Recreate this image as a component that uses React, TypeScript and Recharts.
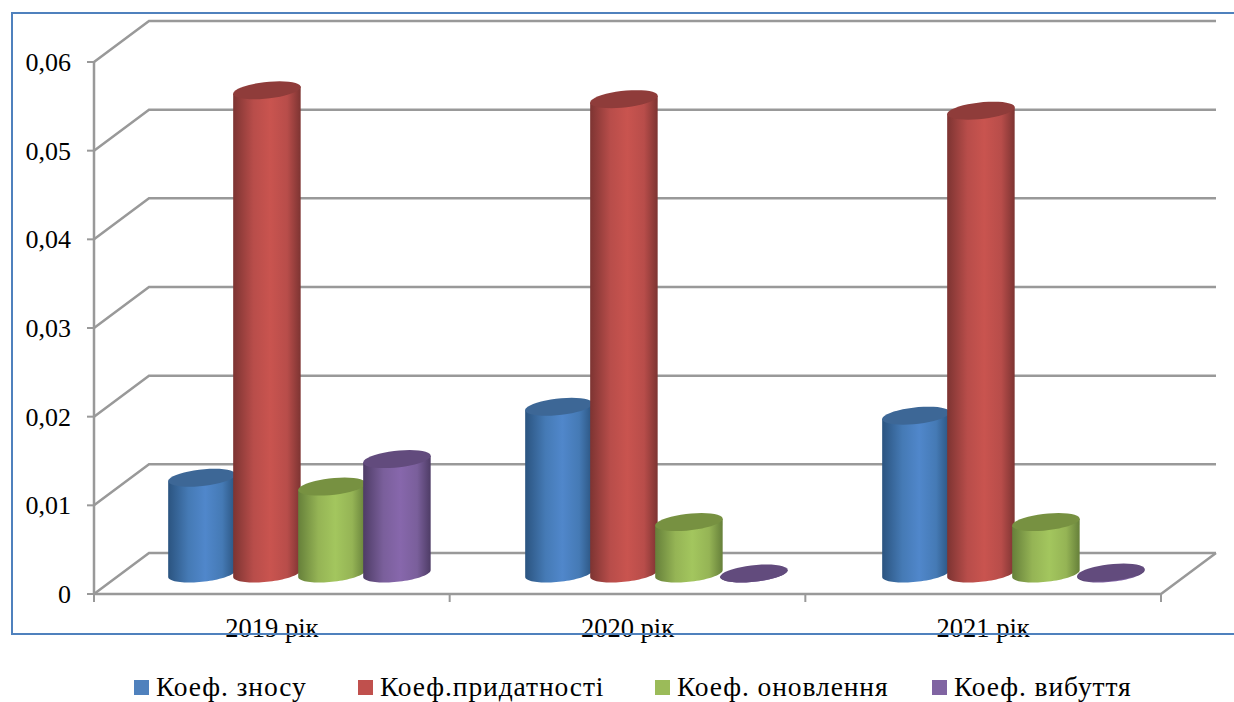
import React from 'react';
import { BarChart, Bar, XAxis, YAxis, CartesianGrid, Legend } from 'recharts';

const YEARS = ['2019 рік', '2020 рік', '2021 рік'];
const ZNOSU = [0.0108, 0.0188, 0.0178];
const PRYDATNOSTI = [0.0545, 0.0535, 0.0522];
const ONOVLENNIA = [0.0098, 0.0058, 0.0058];
const VYBUTTIA = [0.0129, 0, 0.0001];
const Y_TICKS = [0, 0.01, 0.02, 0.03, 0.04, 0.05, 0.06];

const chartData = YEARS.map((name, i) => ({
    name,
    znosu: ZNOSU[i],
    prydatnosti: PRYDATNOSTI[i],
    onovlennia: ONOVLENNIA[i],
    vybuttia: VYBUTTIA[i]
}));

const WIDTH = 1234;
const HEIGHT = 702;
// half of the 3D depth: the bars stand in the middle of the floor
const DX = 27.5;
const DY = 20.5;
const SERIF = '"Liberation Serif", "Times New Roman", serif';
const GRID = '#999999';
// groups are spaced a little wider than the axis in the original
const GROUP_DRIFT = 1.33;
// cylinders are slightly wider than their slot, the next one covers the overlap
const BAR_OVERLAP = 2.5;

const SHADES: Record<string, { edge: string; mid: string; light: string; top: string }> = {
    '#4f81bd': { edge: '#2b5480', mid: '#457ab5', light: '#5087cb', top: '#3d6796' },
    '#c0504d': { edge: '#7d3432', mid: '#b84d4a', light: '#c9544f', top: '#8f3c3a' },
    '#9bbb59': { edge: '#66803a', mid: '#95b455', light: '#a3c65e', top: '#779141' },
    '#8064a2': { edge: '#4e3c66', mid: '#7a5f9b', light: '#8767ac', top: '#624b7d' }
};

const Cylinder = ({ x, y, width, height, fill, index }: any) => {
    const w = width + BAR_OVERLAP;
    const cx = x + (index - 1) * GROUP_DRIFT + w / 2;
    const r = w / 2;
    const shearX = 12.7;
    const shearY = 9;
    const a = Math.sqrt(r * r - shearX * shearX);
    const t0 = Math.atan2(shearX, a);
    const at = (t: number, base: number) =>
        `${cx + a * Math.cos(t) + shearX * Math.sin(t)},${base - shearY * Math.sin(t)}`;
    const top: string[] = [];
    const bottom: string[] = [];
    for (let i = 0; i <= 40; i++) {
        top.push(at((i / 40) * Math.PI * 2, y));
        // lower half of the base, right to left
        bottom.push(at(t0 - (i / 40) * Math.PI, y + height));
    }
    const id = `cyl-${fill.slice(1)}`;
    return (
        <g>
            <path d={`M${at(t0, y)} L${bottom.join(' L')} L${at(t0 + Math.PI, y)} Z`} fill={`url(#${id})`} />
            <path d={`M${top.join(' L')} Z`} fill={SHADES[fill].top} />
        </g>
    );
};

const YTick = ({ x, y, payload }: any) => (
    <g>
        <line x1={x - DX - 7} y1={y + DY} x2={x - DX} y2={y + DY} stroke={GRID} strokeWidth={2} />
        <text x={x - DX - 23} y={y + DY + 9} textAnchor="end" fontFamily={SERIF} fontSize={26} fill="#000">
            {payload.value === 0 ? '0' : payload.value.toFixed(2).replace('.', ',')}
        </text>
    </g>
);

const XTick = ({ x, y, payload }: any) => (
    <text x={x - DX} y={y + DY + 42.5} textAnchor="middle" fontFamily={SERIF} fontSize={26.5} fill="#000">
        {payload.value}
    </text>
);

const LEGEND_LEFT = [134, 358, 655, 932];

const LegendRow = ({ payload }: any) => (
    <div style={{ position: 'relative', width: WIDTH, height: 26 }}>
        {(payload || []).map((entry: any, i: number) => (
            <div
                key={entry.value}
                style={{ position: 'absolute', left: LEGEND_LEFT[i], top: 0, height: 26, display: 'flex', alignItems: 'center', whiteSpace: 'nowrap' }}
            >
                <span style={{ width: 15, height: 15, background: entry.color, marginRight: 7, marginTop: 2 }} />
                <span style={{ fontFamily: SERIF, fontSize: 27.5, letterSpacing: 0.9, color: '#000', lineHeight: '26px' }}>{entry.value}</span>
            </div>
        ))}
    </div>
);

const gridHorizontal = ({ x1, x2, y1, index }: any) => {
    const y = y1;
    return (
        <g key={`h-${index}`}>
            <polyline
                points={`${x1 - DX},${y + DY} ${x1 + DX},${y - DY} ${x2 + DX},${y - DY}`}
                fill="none"
                stroke={GRID}
                strokeWidth={2.5}
            />
            {index === 0 && (
                <polyline
                    points={`${x1 - DX},${y + DY} ${x2 - DX},${y + DY} ${x2 + DX},${y - DY}`}
                    fill="none"
                    stroke={GRID}
                    strokeWidth={2.5}
                />
            )}
        </g>
    );
};

const gridVertical = ({ x1, y1, y2, index }: any) => (
    <g key={`v-${index}`}>
        {index === 0 && <line x1={x1 - DX} y1={y1 + DY} x2={x1 - DX} y2={y2 + DY} stroke={GRID} strokeWidth={2.5} />}
        <line x1={x1 - DX} y1={y2 + DY} x2={x1 - DX} y2={y2 + DY + 8} stroke={GRID} strokeWidth={2} />
    </g>
);

const App = () => (
    <div style={{ position: 'fixed', left: 0, top: 0, width: WIDTH, height: HEIGHT, overflow: 'hidden', background: '#fff' }}>
        <BarChart
            width={WIDTH}
            height={HEIGHT}
            data={chartData}
            barGap={0}
            barSize={65}
            margin={{ left: 120.5, right: 45.5, top: 41.5, bottom: 127.5 }}
        >
            <defs>
                {Object.keys(SHADES).map((c) => (
                    <linearGradient key={c} id={`cyl-${c.slice(1)}`} x1="0" y1="0" x2="1" y2="0">
                        <stop offset="0" stopColor={SHADES[c].edge} />
                        <stop offset="0.3" stopColor={SHADES[c].mid} />
                        <stop offset="0.55" stopColor={SHADES[c].light} />
                        <stop offset="0.8" stopColor={SHADES[c].mid} />
                        <stop offset="1" stopColor={SHADES[c].edge} />
                    </linearGradient>
                ))}
            </defs>
            <CartesianGrid
                horizontal={gridHorizontal}
                vertical={gridVertical}
                verticalCoordinatesGenerator={({ offset }: any) =>
                    [0, 1, 2, 3].map((i) => offset.left + (i * offset.width) / YEARS.length)
                }
            />
            <XAxis dataKey="name" height={1} axisLine={false} tickLine={false} tickSize={0} tickMargin={0} interval={0} tick={<XTick />} />
            <YAxis width={1} domain={[0, 0.06]} ticks={Y_TICKS} axisLine={false} tickLine={false} tickSize={0} tickMargin={0} interval={0} tick={<YTick />} />
            <Legend
                layout="horizontal"
                align="center"
                verticalAlign="middle"
                itemSorter={null}
                wrapperStyle={{ left: 0, top: 673.5, width: WIDTH }}
                content={<LegendRow />}
            />
            <Bar dataKey="znosu" name="Коеф. зносу" fill="#4f81bd" shape={<Cylinder />} isAnimationActive={false} />
            <Bar dataKey="prydatnosti" name="Коеф.придатності" fill="#c0504d" shape={<Cylinder />} isAnimationActive={false} />
            <Bar dataKey="onovlennia" name="Коеф. оновлення" fill="#9bbb59" shape={<Cylinder />} isAnimationActive={false} />
            <Bar dataKey="vybuttia" name="Коеф. вибуття" fill="#8064a2" shape={<Cylinder />} isAnimationActive={false} />
        </BarChart>
        <div
            style={{
                position: 'absolute',
                left: 11,
                top: 12,
                width: WIDTH,
                height: 619,
                borderLeft: '2px solid #4f81bd',
                borderTop: '2px solid #4f81bd',
                borderBottom: '2px solid #4f81bd',
                pointerEvents: 'none'
            }}
        />
    </div>
);

export default App;
